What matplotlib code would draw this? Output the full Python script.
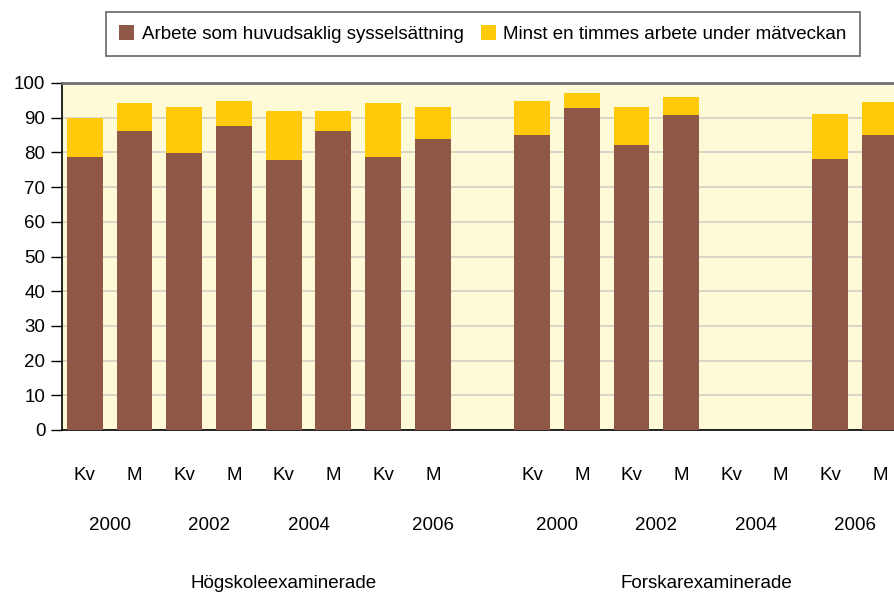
import numpy as np
import matplotlib
matplotlib.use("Agg")
import matplotlib.pyplot as plt
from matplotlib.patches import Patch
from matplotlib.transforms import blended_transform_factory

plt.rcParams['font.family'] = ['Liberation Sans', 'DejaVu Sans']

# ------------------ DATA ------------------
groups = ["Högskoleexaminerade", "Forskarexaminerade"]
sex_labels = ["Kv", "M"] * 4
years = ["2000", "2002", "2004", "2006"]

# huvudsaklig sysselsättning (brown) and total incl. minst en timme (top of yellow)
hogskola_main = [78.7, 86.2, 79.9, 87.6, 77.8, 86.2, 78.7, 83.9]
hogskola_total = [90.0, 94.2, 93.1, 94.8, 91.9, 91.9, 94.2, 93.1]
forskare_main = [85.0, 92.8, 82.1, 90.8, np.nan, np.nan, 78.1, 85.0]
forskare_total = [94.8, 97.1, 93.1, 96.0, np.nan, np.nan, 91.1, 94.5]

label_main = "Arbete som huvudsaklig sysselsättning"
label_extra = "Minst en timmes arbete under mätveckan"

brown = "#8E5746"
yellow = "#FFCA0A"
bg = "#FEFAD7"

# ------------------ LAYOUT ------------------
fig = plt.figure(figsize=(8.95, 5.92), dpi=100)
ax = fig.add_axes([62 / 895, 162 / 592, 1 - 62 / 895, 347 / 592])
ax.set_facecolor(bg)

x_left = np.arange(8)
x_right = np.arange(9, 17)
x_all = np.concatenate([x_left, x_right])

main_vals = np.array(hogskola_main + forskare_main)
total_vals = np.array(hogskola_total + forskare_total)
extra_vals = total_vals - main_vals

w = 0.72
ax.bar(x_all, main_vals, width=w, color=brown, zorder=3)
ax.bar(x_all, extra_vals, width=w, bottom=main_vals, color=yellow, zorder=3)

ax.set_ylim(0, 100)
ax.set_xlim(-0.46, 16.3)
ax.set_yticks(range(0, 101, 10))
ax.yaxis.grid(True, color="#D2D0C4", linewidth=1.2, zorder=0)
ax.tick_params(axis="y", direction="out", length=8, width=1, labelsize=13.5, pad=4)

ax.set_xticks(x_all)
ax.set_xticklabels(sex_labels * 2, fontsize=13.5)
ax.tick_params(axis="x", length=0, pad=27)

for s in ["left", "bottom"]:
    ax.spines[s].set_color("black")
    ax.spines[s].set_linewidth(1.2)
ax.spines["top"].set_color("#707070")
ax.spines["top"].set_linewidth(2)
ax.spines["right"].set_visible(False)

trans = blended_transform_factory(ax.transData, fig.transFigure)
year_pos_left = [0.5, 2.5, 4.5, 7]
year_pos_right = [9.5, 11.5, 13.5, 15.5]
for xp, yr in zip(year_pos_left + year_pos_right, years * 2):
    ax.text(xp, 1 - 525 / 592, yr, transform=trans, ha="center", va="center", fontsize=13.5)

ax.text(4.0, 1 - 583 / 592, groups[0], transform=trans, ha="center", va="center", fontsize=13.5)
ax.text(12.5, 1 - 583 / 592, groups[1], transform=trans, ha="center", va="center", fontsize=13.5)

handles = [Patch(facecolor=brown, label=label_main),
           Patch(facecolor=yellow, label=label_extra)]
leg = fig.legend(handles=handles, loc="center", bbox_to_anchor=(483 / 895, 1 - 34 / 592),
                 ncol=2, fontsize=13.5, frameon=True, fancybox=False, edgecolor="#404040",
                 handlelength=0.8, handleheight=0.8, handletextpad=0.4, columnspacing=0.9,
                 borderpad=0.7)
leg.get_frame().set_linewidth(1.2)

fig.savefig("out.png", dpi=100)
